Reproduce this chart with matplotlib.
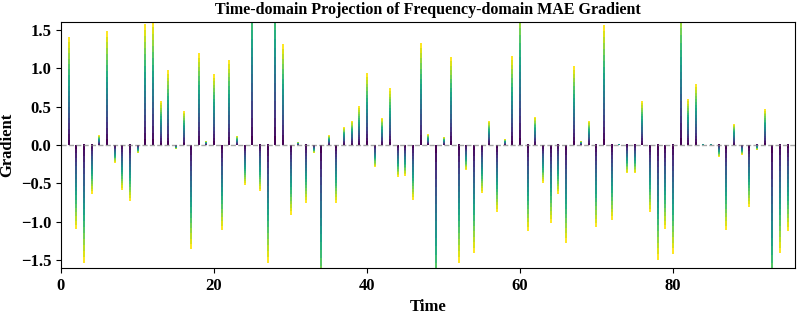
import numpy as np
import matplotlib
matplotlib.use("Agg")
import matplotlib.pyplot as plt

plt.rcParams['font.family'] = ['Liberation Serif', 'DejaVu Serif']
plt.rcParams['font.weight'] = 'bold'
plt.rcParams['axes.labelweight'] = 'bold'
plt.rcParams['axes.titleweight'] = 'bold'

# gradient value at each time step (values beyond +-1.6 are clipped by the axes)
gradient = [
    -0.79, 1.40, -1.09, -1.54, -0.64, 0.13, 1.48, -0.23, -0.58, -0.73,
    -0.10, 1.57, 1.61, 0.57, 0.97, -0.05, 0.43, -1.35, 1.19, 0.04,
    0.92, -1.10, 1.10, 0.11, -0.52, 2.30, -0.60, -1.54, 2.30, 1.31,
    -0.91, 0.03, -0.76, -0.10, -2.10, 0.13, -0.75, 0.23, 0.31, 0.50,
    0.93, -0.28, 0.35, 0.73, -0.41, -0.40, -0.71, 1.32, 0.14, -2.20,
    0.10, 1.14, -1.54, -0.32, -1.40, -0.62, 0.31, -0.87, 0.07, 1.15,
    1.90, -1.12, 0.36, -0.49, -1.01, -0.64, -1.27, 1.02, 0.05, 0.30,
    -1.07, 1.56, -0.98, 0.01, -0.37, -0.37, 0.57, -0.87, -1.50, -1.09,
    -1.42, 1.90, 0.59, 0.79, 0.01, 0.005, -0.16, -1.10, 0.27, -0.13,
    -0.80, -0.07, 0.46, -2.20, -1.41, -1.12,
]
time = np.arange(len(gradient))

fig, ax = plt.subplots(figsize=(7.97, 3.16), dpi=100)
fig.subplots_adjust(left=0.0765, right=0.9975, top=0.930, bottom=0.152)

ramp = np.linspace(0, 1, 20).reshape(-1, 1)
w = 0.2
for t, v in zip(time, gradient):
    ax.imshow(ramp, cmap='viridis', aspect='auto', origin='lower',
              interpolation='nearest', extent=[t - w / 2, t + w / 2, 0, v])

ax.axhline(0, color='gray', linestyle='--', linewidth=1, alpha=0.7)
ax.set_xlim(0, 96)
ax.set_ylim(-1.6, 1.6)
ax.set_yticks([-1.5, -1.0, -0.5, 0.0, 0.5, 1.0, 1.5])
ax.set_xticks([0, 20, 40, 60, 80])
ax.tick_params(labelsize=12)
ax.set_title("Time-domain Projection of Frequency-domain MAE Gradient", fontsize=11.5)
ax.set_xlabel("Time", fontsize=12)
ax.set_ylabel("Gradient", fontsize=12)

fig.savefig("out.png", dpi=100)
